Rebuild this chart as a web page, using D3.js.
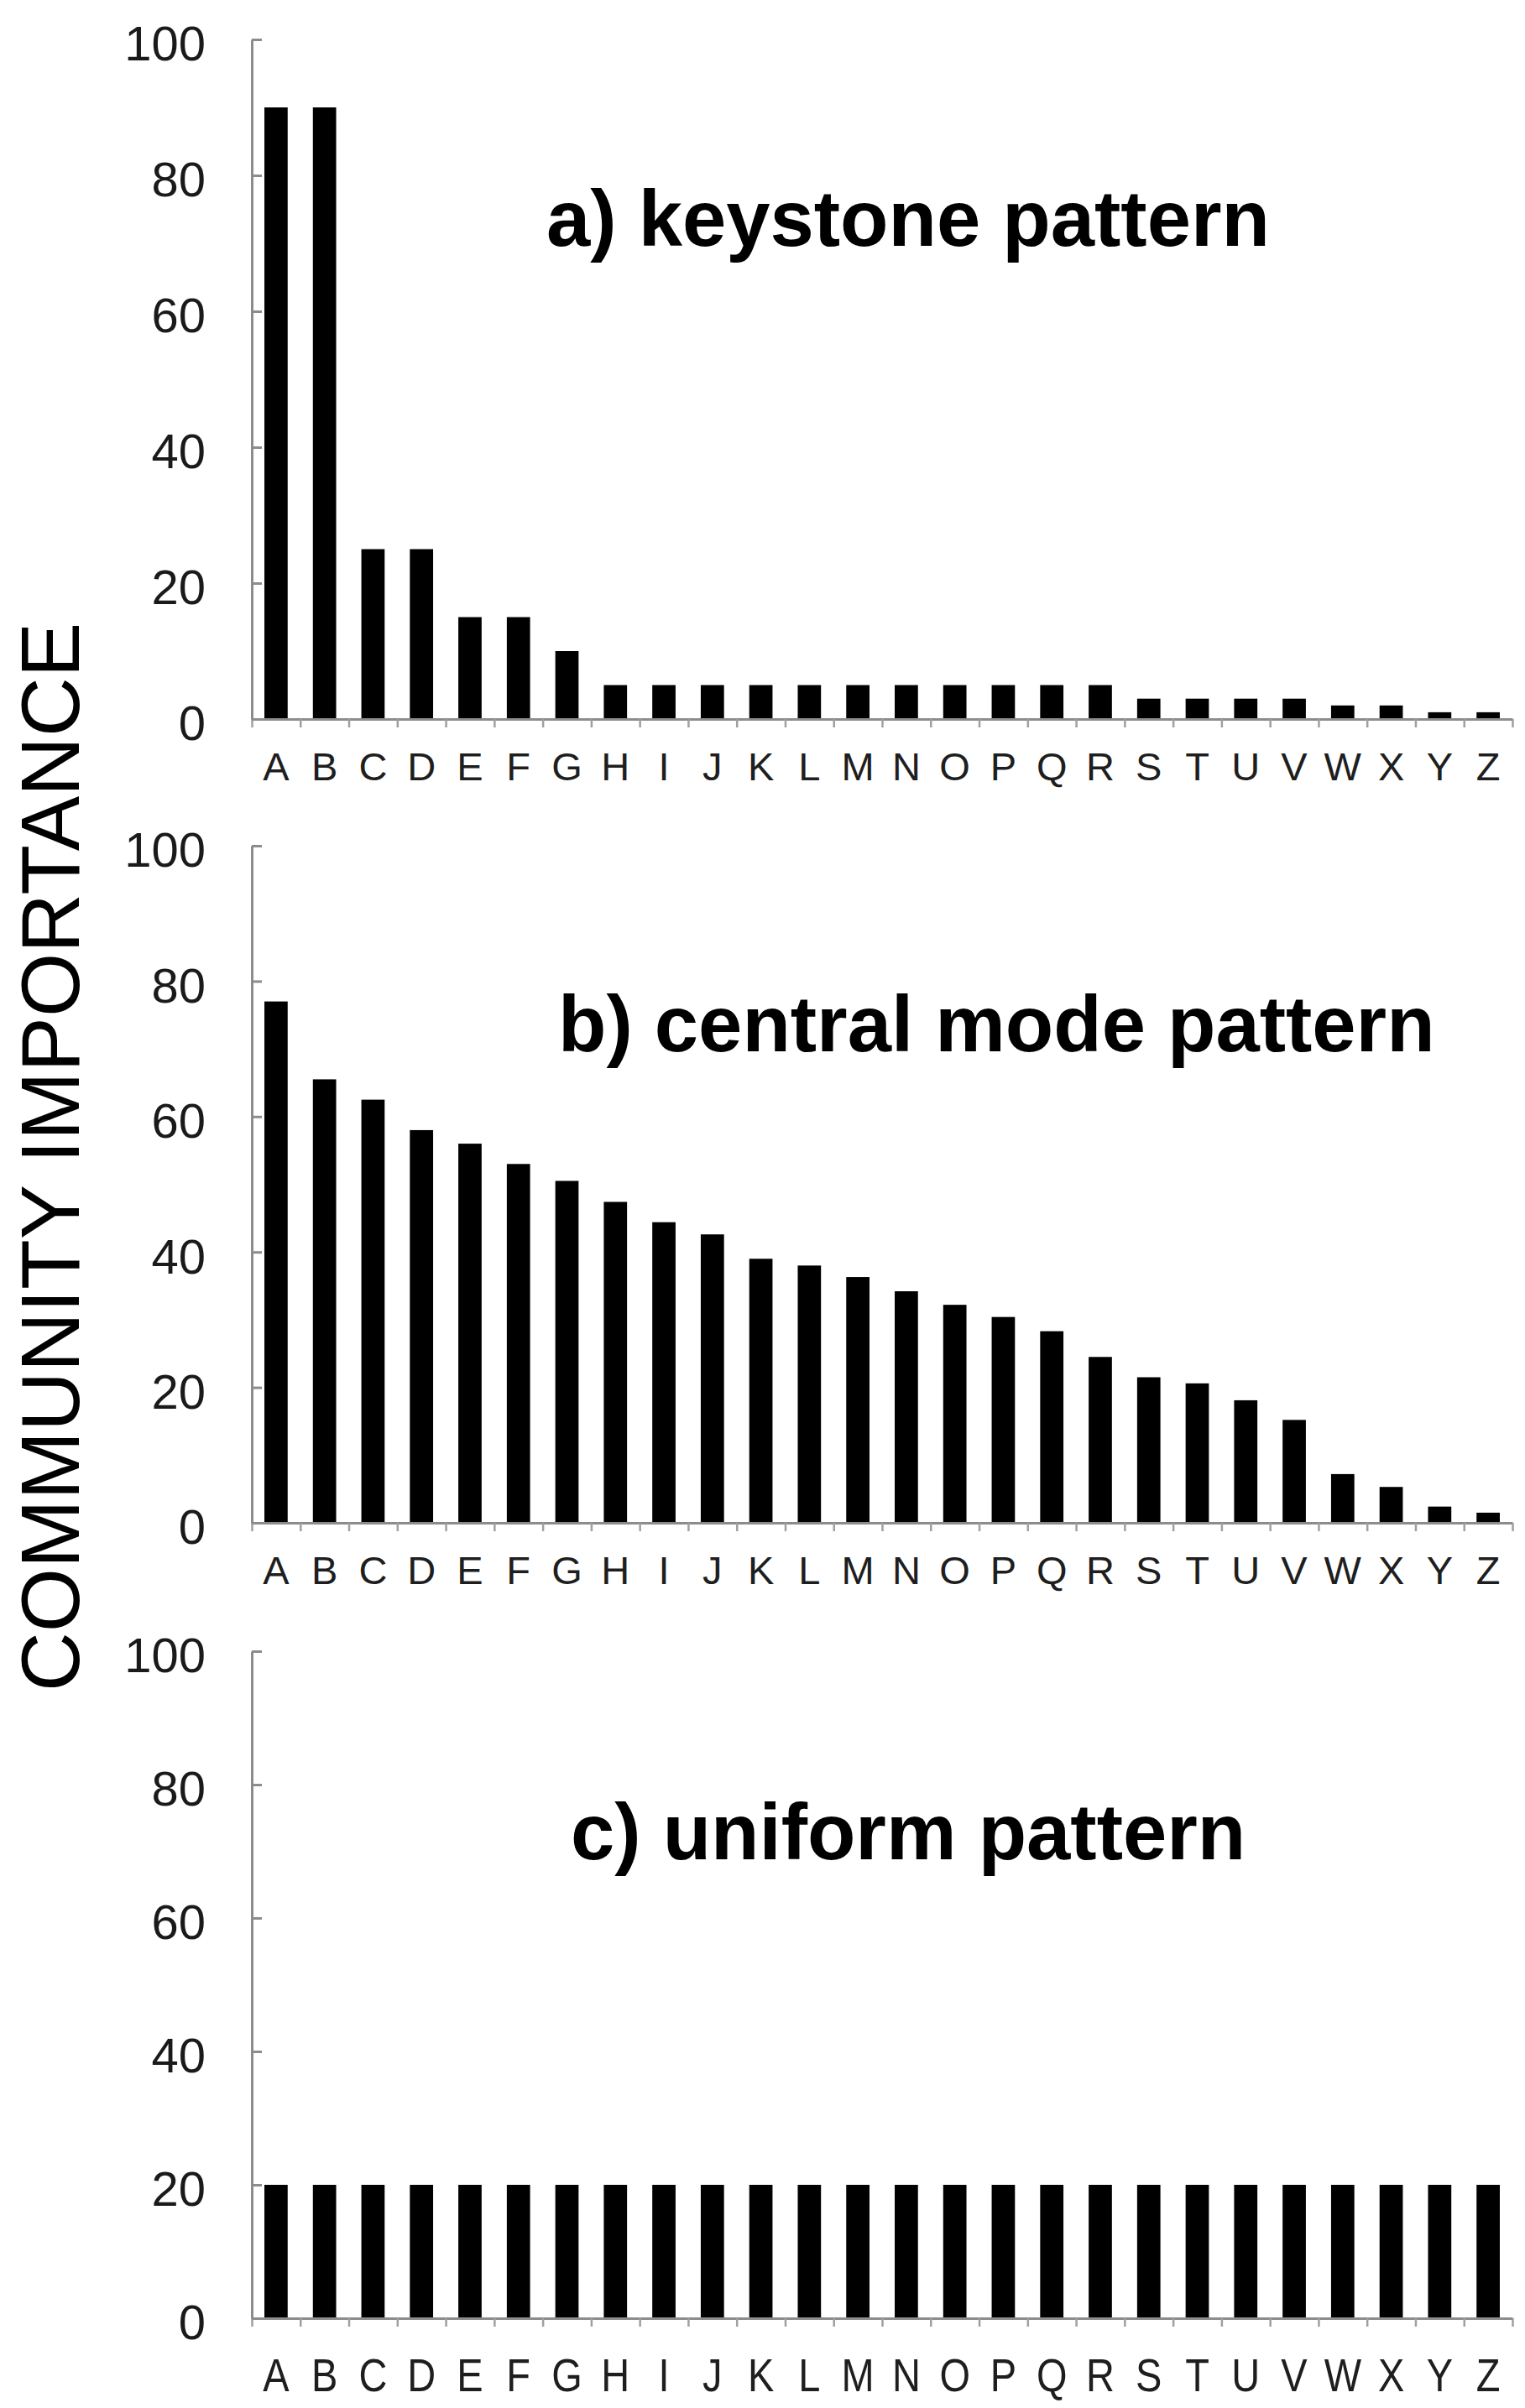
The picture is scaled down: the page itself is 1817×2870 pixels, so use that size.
<!DOCTYPE html>
<html><head><meta charset="utf-8">
<script src="https://cdn.jsdelivr.net/npm/d3@7"></script>
<style>html,body{margin:0;padding:0;background:#fff;} svg{display:block;}</style>
</head><body>
<svg id="chart" width="1817" height="2870"></svg>
<script>
// ---- data ----
const categories = ["A","B","C","D","E","F","G","H","I","J","K","L","M","N","O","P","Q","R","S","T","U","V","W","X","Y","Z"];
const keystoneValues = [90,90,25,25,15,15,10,5,5,5,5,5,5,5,5,5,5,5,3,3,3,3,2,2,1,1];
const centralModeValues = [77,65.5,62.5,58,56,53,50.5,47.4,44.4,42.6,39,38,36.3,34.2,32.2,30.4,28.3,24.5,21.5,20.6,18.1,15.2,7.2,5.3,2.4,1.5];
const uniformValues = [20,20,20,20,20,20,20,20,20,20,20,20,20,20,20,20,20,20,20,20,20,20,20,20,20,20];
const yTicks = [0,20,40,60,80,100];
const panelTitles = ["a) keystone pattern","b) central mode pattern","c) uniform pattern"];
const axisTitle = "COMMUNITY IMPORTANCE";

// ---- layout ----
const FONT = "'Liberation Sans', Arial, Helvetica, sans-serif";
const AXIS_COLOR = "#8c8c8c";
const xLeft = 300, xRight = 1802;
const panels = [
  {values: keystoneValues,    title: panelTitles[0], y0: 857,  y100: 47,   tx: 651, ty: 293,  labelOff: 73, stretch: 1.0},
  {values: centralModeValues, title: panelTitles[1], y0: 1815, y100: 1008, tx: 665, ty: 1253, labelOff: 73, stretch: 1.0},
  {values: uniformValues,     title: panelTitles[2], y0: 2763, y100: 1968, tx: 680, ty: 2216, labelOff: 87, stretch: 1.18}
];

const svg = d3.select("#chart");
svg.append("rect").attr("width",1817).attr("height",2870).attr("fill","#fff");

const x = d3.scaleBand().domain(categories).range([xLeft, xRight]).paddingInner(0.52).paddingOuter(0.26);
const xEdge = d3.scaleLinear().domain([0, categories.length]).range([xLeft, xRight]);

panels.forEach(p => {
  const y = d3.scaleLinear().domain([0,100]).range([p.y0, p.y100]);
  const g = svg.append("g");

  g.append("g").selectAll("rect").data(p.values).join("rect")
    .attr("x", (d,i) => x(categories[i]))
    .attr("width", x.bandwidth())
    .attr("y", d => y(d))
    .attr("height", d => y(0) - y(d))
    .attr("fill", "#000");

  // x axis line + boundary ticks
  const xe = g.append("g").attr("transform", `translate(0,${p.y0})`)
    .call(d3.axisBottom(xEdge).tickValues(d3.range(categories.length + 1)).tickSize(10).tickSizeOuter(0).tickFormat(""));
  xe.select(".domain").attr("stroke", AXIS_COLOR).attr("stroke-width", 3);
  xe.selectAll(".tick line").attr("stroke", "#a0a0a0").attr("stroke-width", 2.5);

  // x labels
  const xl = g.append("g").attr("transform", `translate(0,${p.y0})`)
    .call(d3.axisBottom(x).tickSize(0).tickPadding(0));
  xl.select(".domain").remove();
  xl.selectAll(".tick text")
    .attr("y", 0).attr("dy", 0)
    .attr("transform", `translate(0,${p.labelOff}) scale(1,${p.stretch})`)
    .attr("font-size", 47).attr("font-family", FONT).attr("fill", "#1e1e1e");

  // y axis
  const ya = g.append("g").attr("transform", `translate(${xLeft},0)`)
    .call(d3.axisLeft(y).tickValues(yTicks).tickSize(-12).tickSizeOuter(0).tickPadding(55));
  ya.select(".domain").attr("stroke", AXIS_COLOR).attr("stroke-width", 3);
  ya.selectAll(".tick line").attr("stroke", AXIS_COLOR).attr("stroke-width", 3);
  ya.selectAll(".tick text")
    .attr("font-size", 58).attr("font-family", FONT).attr("fill", "#1a1a1a").attr("dy", "0.43em");

  // panel title
  g.append("text").attr("x", p.tx).attr("y", p.ty)
    .attr("font-size", 94).attr("font-weight", "bold").attr("font-family", FONT).attr("fill", "#000")
    .text(p.title);
});

svg.append("text")
  .attr("transform", "translate(94,1379) rotate(-90)")
  .attr("text-anchor", "middle")
  .attr("font-size", 98).attr("font-family", FONT).attr("fill", "#000")
  .text(axisTitle);
</script>
</body></html>
